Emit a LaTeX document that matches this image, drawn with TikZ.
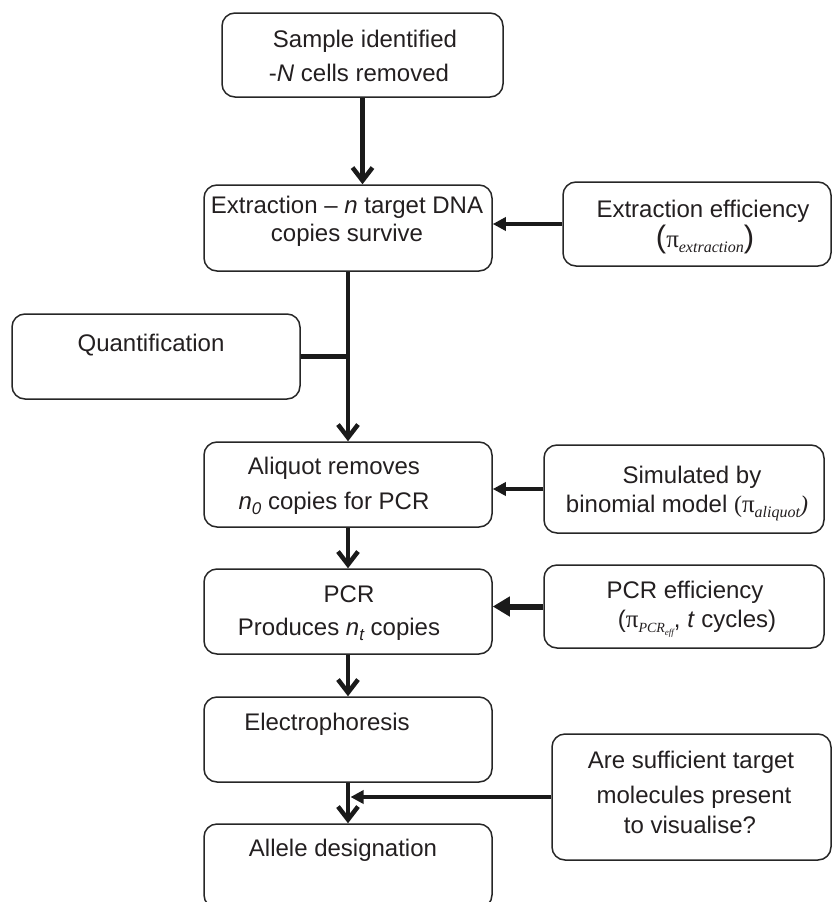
\documentclass[tikz,border=0pt]{standalone}
\usepackage{fontspec}
\setmainfont{Liberation Sans}
\newfontfamily\serifpi{Liberation Serif}
\usetikzlibrary{arrows.meta}
\definecolor{ink}{HTML}{1A1A1A}
\definecolor{txt}{HTML}{231F20}
\definecolor{edge}{HTML}{262626}
\newcommand{\pisym}{{\serifpi\fontsize{25}{25}\selectfont π}}
\newcommand{\lowsub}[1]{\raisebox{-5pt}{\serifpi\itshape\fontsize{16}{16}\selectfont #1}}
\newcommand{\isub}[1]{\raisebox{-5pt}{\itshape\fontsize{17}{17}\selectfont #1}}
\begin{document}
\begin{tikzpicture}[x=1pt,y=-1pt,
 box/.style={draw=edge, line width=1.5pt, rounded corners=13pt, inner sep=0pt},
 lbl/.style={anchor=base, inner sep=0pt, text=txt, font=\fontsize{24}{28}\selectfont},
 flow/.style={draw=ink, line width=4.5pt, -{Straight Barb[length=13pt,width=20pt]}},
 feed/.style={draw=ink, line width=4pt, -{Triangle[length=13pt,width=13pt]}},
 bigfeed/.style={draw=ink, line width=6pt, -{Triangle[length=17pt,width=19pt]}},
 link/.style={draw=ink, line width=4.5pt}]
\useasboundingbox (0,0) rectangle (833,902);

% boxes
\node[box, minimum width=281pt, minimum height=84pt] (b1) at (362.5,55) {};
\node[box, minimum width=288pt, minimum height=86pt] (b2) at (348,228) {};
\node[box, minimum width=268pt, minimum height=84pt] (e1) at (697,224) {};
\node[box, minimum width=288pt, minimum height=85pt] (q) at (156,356.5) {};
\node[box, minimum width=288pt, minimum height=85pt] (b3) at (348,484.5) {};
\node[box, minimum width=280pt, minimum height=88pt] (s) at (684,489) {};
\node[box, minimum width=288pt, minimum height=85pt] (b4) at (348,611.5) {};
\node[box, minimum width=280pt, minimum height=83pt] (p) at (684,606.5) {};
\node[box, minimum width=288pt, minimum height=85pt] (b5) at (348,739.5) {};
\node[box, minimum width=279pt, minimum height=126pt] (a) at (691.5,797) {};
\node[box, minimum width=288pt, minimum height=84pt] (b6) at (348,866) {};

% texts
\node[lbl] (t1a) at (365,47) {Sample identified};
\node[lbl] (t1b) at (359,81) {-\textit{N} cells removed};
\node[lbl] (t2a) at (347,213) {Extraction -- \textit{n} target DNA};
\node[lbl] (t2b) at (347,241) {copies survive};
\node[lbl] (te1a) at (703,217) {Extraction efficiency};
\node[lbl] (te1b) at (705,247) {{\fontsize{31}{31}\selectfont(}\pisym\lowsub{extraction}{\fontsize{31}{31}\selectfont)}};
\node[lbl] (tq) at (151,351) {Quantification};
\node[lbl] (t3a) at (334,474) {Aliquot removes};
\node[lbl] (t3b) at (334,509) {\textit{n}\isub{0} copies for PCR};
\node[lbl] (tsa) at (692,483) {Simulated by};
\node[lbl] (tsb) at (687,512) {binomial model {\serifpi(}\pisym\lowsub{aliquot}{\serifpi\itshape)}};
\node[lbl] (t4a) at (349,602) {PCR};
\node[lbl] (t4b) at (339,635) {Produces \textit{n}\isub{t} copies};
\node[lbl] (tpa) at (685,598) {PCR efficiency};
\node[lbl] (tpb) at (697,627) {(\pisym\raisebox{-5pt}{\serifpi\itshape\fontsize{14}{14}\selectfont PCR\raisebox{-3pt}{\fontsize{9}{9}\selectfont eff}}, \textit{t} cycles)};
\node[lbl] (t5) at (327,730) {Electrophoresis};
\node[lbl] (tqa) at (691,768) {Are sufficient target};
\node[lbl] (tqb) at (694,803) {molecules present};
\node[lbl] (tqc) at (690,833) {to visualise?};
\node[lbl] (t6) at (343,856) {Allele designation};

% connectors
\draw[flow] (b1.south) -- (b1.south |- b2.north);
\draw[feed] (e1.west) -- (e1.west -| b2.east);
\draw[flow] (b2.south) -- (b3.north);
\draw[link] (q.east) -- (q.east -| b2.south);
\draw[feed] (s.west) -- (s.west -| b3.east);
\draw[flow] (b3.south) -- (b4.north);
\draw[bigfeed] (p.west) -- (p.west -| b4.east);
\draw[flow] (b4.south) -- (b5.north);
\draw[flow] (b5.south) -- (b6.north);
\draw[feed, shorten >=2.5pt] (a.west) -- (a.west -| b5.south);
\end{tikzpicture}
\end{document}
